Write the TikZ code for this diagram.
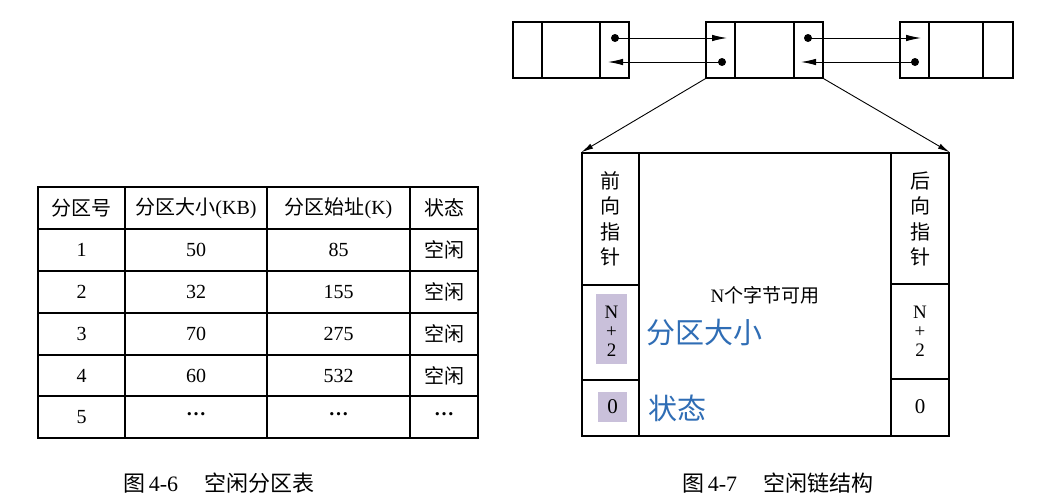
\documentclass[tikz,border=0pt]{standalone}
\usepackage{fontspec}
\setmainfont{Liberation Serif}
\newfontfamily\cjk{Noto Sans CJK SC}
\usetikzlibrary{arrows.meta}
\definecolor{hl}{HTML}{C9C0DA}
\definecolor{bluetxt}{HTML}{2F6DB5}
\tikzset{
  tgrid/.style={line width=1.3pt},
  cell/.style={inner sep=0pt, font=\fontsize{20}{22}\selectfont},
  captext/.style={inner sep=0pt, anchor=west, font=\fontsize{22}{26}\selectfont},
  lbox/.style={draw, line width=1.4pt, minimum height=56pt, inner sep=0pt},
  dotn/.style={circle, fill=black, inner sep=0pt, minimum size=8pt},
  ptr/.style={line width=0.9pt, -{Latex[length=15pt,width=6.5pt]}},
  diag/.style={line width=0.9pt, -{Latex[length=12pt,width=5.5pt]}},
  vtext/.style={inner sep=0pt, align=center, font=\fontsize{20}{25.5}\selectfont\cjk},
  ntext/.style={inner sep=0pt, align=center, font=\fontsize{19}{19}\selectfont},
  zero/.style={inner sep=0pt, font=\fontsize{21}{22}\selectfont},
  bigblue/.style={inner sep=0pt, anchor=west, text=bluetxt, font=\fontsize{29}{31}\selectfont\cjk},
}
\begin{document}
\begin{tikzpicture}[x=1pt,y=-1pt]
\useasboundingbox[fill=white] (0,0) rectangle (1046,501);

% ---------- Table ----------
\draw[tgrid] (38,187) rectangle (478,438);
\foreach \y in {229,271,313,355,396} \draw[tgrid] (38,\y) -- (478,\y);
\foreach \x in {125,267,410} \draw[tgrid] (\x,187) -- (\x,438);

\node[cell] (h1) at (81.5,208) {\cjk 分区号};
\node[cell] (h2) at (196,208) {{\cjk 分区大小}(KB)};
\node[cell] (h3) at (338.5,208) {{\cjk 分区始址}(K)};
\node[cell] (h4) at (444,208) {\cjk 状态};

\node[cell] (r1a) at (81.5,250) {1};
\node[cell] (r1b) at (196,250) {50};
\node[cell] (r1c) at (338.5,250) {85};
\node[cell] (r1d) at (444,250) {\cjk 空闲};
\node[cell] (r2a) at (81.5,292) {2};
\node[cell] (r2b) at (196,292) {32};
\node[cell] (r2c) at (338.5,292) {155};
\node[cell] (r2d) at (444,292) {\cjk 空闲};
\node[cell] (r3a) at (81.5,334) {3};
\node[cell] (r3b) at (196,334) {70};
\node[cell] (r3c) at (338.5,334) {275};
\node[cell] (r3d) at (444,334) {\cjk 空闲};
\node[cell] (r4a) at (81.5,375.5) {4};
\node[cell] (r4b) at (196,375.5) {60};
\node[cell] (r4c) at (338.5,375.5) {532};
\node[cell] (r4d) at (444,375.5) {\cjk 空闲};
\node[cell] (r5a) at (81.5,417) {5};
\node[cell] (r5b) at (196,414) {\textbf{\dots}};
\node[cell] (r5c) at (338.5,414) {\textbf{\dots}};
\node[cell] (r5d) at (444,414) {\textbf{\dots}};

\node[captext] (cap1) at (123,483) {{\cjk 图}\,4-6\hspace{26pt}{\cjk 空闲分区表}};
\node[captext] (cap2) at (682,483) {{\cjk 图}\,4-7\hspace{26pt}{\cjk 空闲链结构}};

% ---------- Linked list ----------
\node[lbox, minimum width=116pt] (b1) at (571,50) {};
\node[lbox, minimum width=117pt] (b2) at (764.5,50) {};
\node[lbox, minimum width=113pt] (b3) at (956.5,50) {};
\draw[line width=1.4pt] (542,22) -- (542,78) (600,22) -- (600,78);
\draw[line width=1.4pt] (735,22) -- (735,78) (794,22) -- (794,78);
\draw[line width=1.4pt] (929,22) -- (929,78) (983,22) -- (983,78);

\node[dotn] (d1) at (615,38) {};
\node[dotn] (d2) at (722,62) {};
\node[dotn] (d3) at (808,38) {};
\node[dotn] (d4) at (915,62) {};
\coordinate (t1) at (727,38);
\coordinate (t2) at (608,62);
\coordinate (t3) at (921,38);
\coordinate (t4) at (801,62);
\draw[ptr] (d1.center) -- (t1);
\draw[ptr] (d2.center) -- (t2);
\draw[ptr] (d3.center) -- (t3);
\draw[ptr] (d4.center) -- (t4);

% ---------- Big block ----------
\node[draw, line width=1.4pt, minimum width=367pt, minimum height=283pt, inner sep=0pt] (big) at (765.5,294.5) {};
\draw[line width=1.4pt] (639,153) -- (639,436) (891,153) -- (891,436);
\draw[line width=1.4pt] (582,285) -- (639,285) (582,380) -- (639,380);
\draw[line width=1.4pt] (891,284) -- (949,284) (891,379) -- (949,379);

\draw[diag] (b2.south west) -- (big.north west);
\draw[diag] (b2.south east) -- (big.north east);

\node[vtext] (fp) at (610.5,219) {前\\向\\指\\针};
\node[vtext] (bp) at (920,219) {后\\向\\指\\针};

\fill[hl] (596,294) rectangle (627,364);
\fill[hl] (598,392) rectangle (627,422);
\node[ntext] (ln) at (611.5,331) {N\\+\\2};
\node[zero] (l0) at (612.5,407) {0};
\node[ntext] (rn) at (920,331) {N\\+\\2};
\node[zero] (r0) at (920,407) {0};

\node[inner sep=0pt, font=\fontsize{19}{22}\selectfont] (avail) at (765,295) {N{\cjk 个字节可用}};
\node[bigblue] (sz) at (646,333) {分区大小};
\node[bigblue] (st) at (648,408) {状态};
\end{tikzpicture}
\end{document}
